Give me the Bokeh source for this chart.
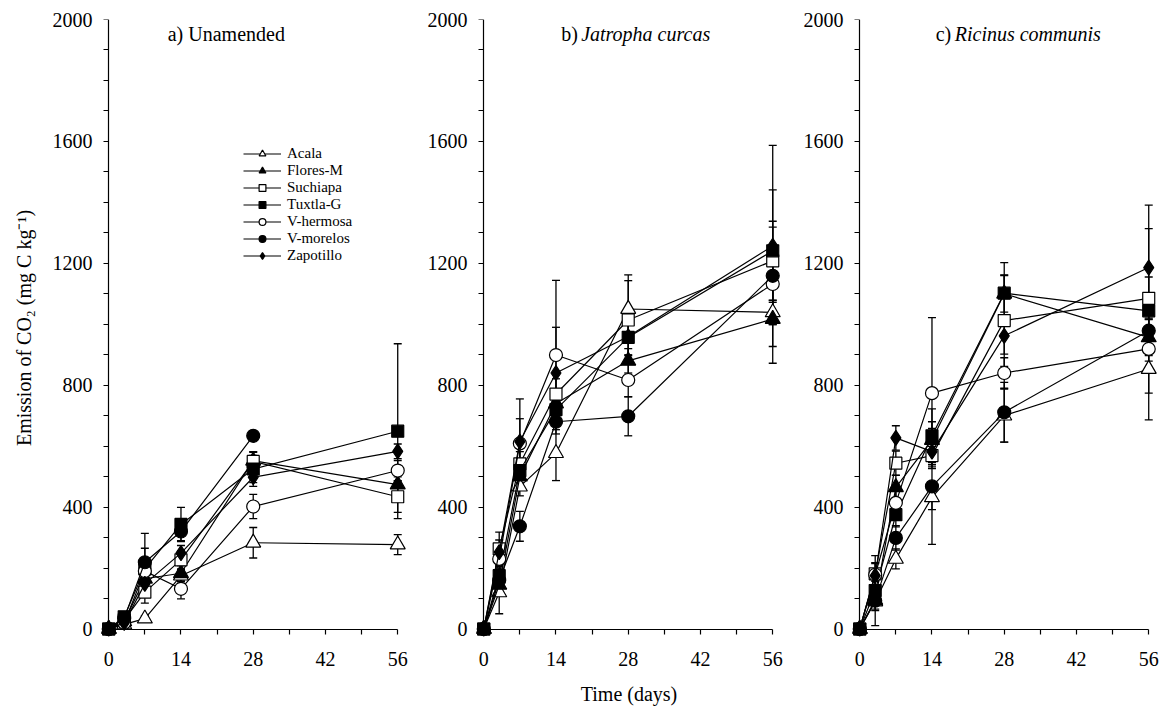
import math
from bokeh.plotting import figure
from bokeh.models import (Range1d, FixedTicker, Label, Legend, LegendItem,
                          Whisker, TeeHead, ColumnDataSource, LinearAxis)
from bokeh.layouts import row
from bokeh.embed import file_html
from bokeh.resources import INLINE

NaN = float("nan")

days = [0, 3, 7, 14, 28, 56]
sites = ["Acala", "Flores-M", "Suchiapa", "Tuxtla-G", "V-hermosa", "V-morelos", "Zapotillo"]
x_ticks = [0, 14, 28, 42, 56]
x_all_ticks = [0, 7, 14, 21, 28, 35, 42, 49, 56]
y_ticks = [0, 400, 800, 1200, 1600, 2000]
y_all_ticks = [0, 100, 200, 300, 400, 500, 600, 700, 800, 900, 1000, 1100, 1200,
               1300, 1400, 1500, 1600, 1700, 1800, 1900, 2000]

# a) Unamended -- means and error
a_acala = [0, 15, 34, 175, 283, 277]
a_flores = [0, 25, 165, 183, 552, 474]
a_suchiapa = [0, 30, 121, 227, 550, 434]
a_tuxtla = [0, 40, 197, 343, 525, 649]
a_vhermosa = [0, 20, 190, 132, 402, 520]
a_vmorelos = [0, 35, 219, 320, 634, NaN]
a_zapotillo = [0, 20, 148, 249, 498, 583]
a_acala_err = [0, 8, 10, 20, 50, 33]
a_flores_err = [0, 10, 25, 25, 30, 25]
a_suchiapa_err = [0, 10, 36, 30, 30, 51]
a_tuxtla_err = [0, 15, 68, 56, 45, 287]
a_vhermosa_err = [0, 10, 30, 33, 40, 33]
a_vmorelos_err = [0, 12, 95, 30, 15, NaN]
a_zapotillo_err = [0, 8, 20, 25, 30, 24]

# b) Jatropha curcas
b_acala = [0, 120, 467, 577, 1050, 1039]
b_flores = [0, 145, 500, 740, 880, 1017]
b_suchiapa = [0, 263, 542, 771, 1014, 1208]
b_tuxtla = [0, 175, 520, 720, 957, 1241]
b_vhermosa = [0, 230, 609, 899, 817, 1132]
b_vmorelos = [0, 160, 337, 680, 698, 1159]
b_zapotillo = [0, 252, 615, 840, 960, 1257]
b_acala_err = [0, 70, 30, 90, 112, 40]
b_flores_err = [0, 30, 40, 40, 40, 145]
b_suchiapa_err = [0, 55, 40, 50, 129, 130]
b_tuxtla_err = [0, 30, 40, 40, 60, 200]
b_vhermosa_err = [0, 40, 146, 245, 55, 60]
b_vmorelos_err = [0, 40, 49, 40, 64, 160]
b_zapotillo_err = [0, 40, 75, 150, 60, 330]

# c) Ricinus communis
c_acala = [0, 90, 230, 432, 700, 853]
c_flores = [0, 95, 465, 620, 1100, 957]
c_suchiapa = [0, 181, 544, 569, 1012, 1085]
c_tuxtla = [0, 126, 375, 634, 1102, 1044]
c_vhermosa = [0, 178, 414, 774, 840, 919]
c_vmorelos = [0, 93, 299, 468, 711, 979]
c_zapotillo = [0, 175, 627, 582, 962, 1186]
c_acala_err = [0, 30, 33, 40, 87, 167]
c_flores_err = [0, 30, 40, 60, 60, 60]
c_suchiapa_err = [0, 60, 40, 30, 150, 70]
c_tuxtla_err = [0, 30, 40, 88, 100, 270]
c_vhermosa_err = [0, 40, 40, 248, 50, 40]
c_vmorelos_err = [0, 82, 40, 190, 98, 60]
c_zapotillo_err = [0, 40, 40, 50, 60, 205]

panel_a = ([a_acala, a_flores, a_suchiapa, a_tuxtla, a_vhermosa, a_vmorelos, a_zapotillo],
           [a_acala_err, a_flores_err, a_suchiapa_err, a_tuxtla_err, a_vhermosa_err, a_vmorelos_err, a_zapotillo_err])
panel_b = ([b_acala, b_flores, b_suchiapa, b_tuxtla, b_vhermosa, b_vmorelos, b_zapotillo],
           [b_acala_err, b_flores_err, b_suchiapa_err, b_tuxtla_err, b_vhermosa_err, b_vmorelos_err, b_zapotillo_err])
panel_c = ([c_acala, c_flores, c_suchiapa, c_tuxtla, c_vhermosa, c_vmorelos, c_zapotillo],
           [c_acala_err, c_flores_err, c_suchiapa_err, c_tuxtla_err, c_vhermosa_err, c_vmorelos_err, c_zapotillo_err])

marker_style = {
    "Acala": ("triangle", "white", 15),
    "Flores-M": ("triangle", "black", 15),
    "Suchiapa": ("square", "white", 12),
    "Tuxtla-G": ("square", "black", 12),
    "V-hermosa": ("circle", "white", 13),
    "V-morelos": ("circle", "black", 13),
    "Zapotillo": ("diamond", "black", 15),
}

FONT = "Liberation Serif"


def style_label_axis(ax):
    # axis that only carries the tick labels / axis title (at the frame edge)
    ax.axis_line_color = None
    ax.major_tick_line_color = None
    ax.minor_tick_line_color = None
    ax.major_tick_out = 0
    ax.major_tick_in = 0
    ax.minor_tick_out = 0
    ax.minor_tick_in = 0
    ax.major_label_text_font = FONT
    ax.major_label_text_font_size = "20px"
    ax.major_label_text_color = "black"
    ax.axis_label_text_font = FONT
    ax.axis_label_text_font_size = "20px"
    ax.axis_label_text_font_style = "normal"
    ax.axis_label_text_color = "black"


def line_axis(ticks, bounds):
    # axis drawn at the data origin: line and ticks only
    return LinearAxis(ticker=FixedTicker(ticks=[], minor_ticks=ticks),
                      fixed_location=0, bounds=bounds,
                      axis_line_color="black", axis_line_width=1.2,
                      minor_tick_out=5, minor_tick_in=0,
                      minor_tick_line_color="black", minor_tick_line_width=1.2,
                      major_tick_out=0, major_tick_in=0)


def make_panel(means, errs, border_left, ylabel=None, xlabel=None):
    p = figure(frame_width=305, frame_height=617,
               x_range=Range1d(-1.4, 57.7), y_range=Range1d(-24.6, 2000),
               output_backend="svg", toolbar_location=None, title=None,
               min_border_left=border_left, min_border_right=5,
               min_border_top=19, min_border_bottom=83,
               outline_line_color=None, background_fill_color="white",
               border_fill_color="white")
    p.grid.visible = False
    xl = p.xaxis[0]
    yl = p.yaxis[0]
    style_label_axis(xl)
    style_label_axis(yl)
    xl.ticker = FixedTicker(ticks=x_ticks, minor_ticks=[])
    yl.ticker = FixedTicker(ticks=y_ticks, minor_ticks=[])
    xl.major_label_standoff = 15
    yl.major_label_standoff = 9
    if ylabel:
        yl.axis_label = ylabel
        yl.axis_label_standoff = 15
    if xlabel:
        xl.axis_label = xlabel
        xl.axis_label_standoff = 14
    p.add_layout(line_axis(y_all_ticks, (0, 2000)), "left")
    p.add_layout(line_axis(x_all_ticks, (0, 56)), "below")

    items = []
    for site, m, e in zip(sites, means, errs):
        mk, fill, size = marker_style[site]
        wx, wu, wl = [], [], []
        for d, v, s in zip(days, m, e):
            if not (math.isnan(v) or math.isnan(s)) and s > 0:
                wx.append(d)
                wu.append(v + s)
                wl.append(v - s)
        wsrc = ColumnDataSource(dict(x=wx, upper=wu, lower=wl))
        w = Whisker(source=wsrc, base="x", upper="upper", lower="lower",
                    dimension="height", line_color="black", line_width=1.3,
                    level="underlay",
                    upper_head=TeeHead(size=8, line_color="black", line_width=1.3),
                    lower_head=TeeHead(size=8, line_color="black", line_width=1.3))
        p.add_layout(w)
        src = ColumnDataSource(dict(x=days, y=m))
        lr = p.line("x", "y", source=src, line_color="black", line_width=1.2)
        sr = p.scatter("x", "y", source=src, marker=mk, size=size,
                       fill_color=fill, line_color="black", line_width=1.2)
        items.append(LegendItem(label=site, renderers=[lr, sr]))
    return p, items


p1, items1 = make_panel(*panel_a, border_left=101, ylabel="Emission of CO\u2082 (mg C kg\u207b\u00b9)")
p2, _ = make_panel(*panel_b, border_left=65, xlabel="Time (days)")
p3, _ = make_panel(*panel_c, border_left=66)

legend = Legend(items=items1, location=(142, 372), orientation="vertical",
                padding=0, margin=0, spacing=0, glyph_height=17, glyph_width=38,
                label_height=15, label_standoff=6,
                label_text_font=FONT, label_text_font_size="15px",
                label_text_color="black",
                border_line_color=None, background_fill_alpha=0)
p1.add_layout(legend)

title_y = 1951
p1.add_layout(Label(x=11.43, y=title_y, text="a) Unamended", text_font=FONT,
                    text_font_size="20px", text_baseline="middle", text_color="black"))
p2.add_layout(Label(x=15.0, y=title_y, text="b)", text_font=FONT,
                    text_font_size="20px", text_baseline="middle", text_color="black"))
p2.add_layout(Label(x=15.0, y=title_y, x_offset=20, text="Jatropha curcas", text_font=FONT,
                    text_font_size="20px", text_font_style="italic",
                    text_baseline="middle", text_color="black"))
p3.add_layout(Label(x=14.73, y=title_y, text="c)", text_font=FONT,
                    text_font_size="20px", text_baseline="middle", text_color="black"))
p3.add_layout(Label(x=14.73, y=title_y, x_offset=19, text="Ricinus communis", text_font=FONT,
                    text_font_size="20px", text_font_style="italic",
                    text_baseline="middle", text_color="black"))

layout = row(p1, p2, p3)
open("out.html", "w").write(file_html(layout, INLINE))
